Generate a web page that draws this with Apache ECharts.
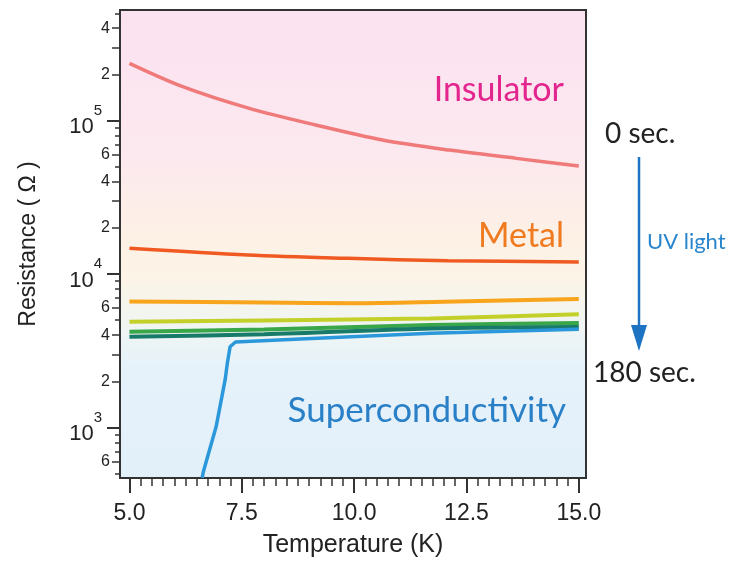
<!DOCTYPE html>
<html><head><meta charset="utf-8">
<script src="https://cdn.jsdelivr.net/npm/echarts@6/dist/echarts.min.js"></script>
<style>html,body{margin:0;padding:0;background:#fff}#c{width:731px;height:571px}</style>
</head><body><div id="c"></div>
<script>
// ---- data ----
const insulatorT = [5.0, 6.17, 7.65, 9.14, 10.63, 12.12, 13.61, 15.0];
const insulatorR = [236000, 167000, 120500, 93600, 74700, 64200, 56700, 50600];
const metalT = [5.0, 7.63, 9.86, 12.09, 15.0];
const metalR = [14700, 13300, 12650, 12200, 12000];
const orangeT = [5.0, 8.0, 10.0, 12.0, 15.0];
const orangeR = [6620, 6520, 6450, 6600, 6870];
const yellowT = [5.0, 8.0, 11.7, 15.0];
const yellowR = [4890, 4980, 5140, 5460];
const greenT = [5.0, 8.0, 11.7, 15.0];
const greenR = [4210, 4350, 4650, 4800];
const tealT = [5.0, 8.0, 11.7, 15.0];
const tealR = [3910, 4050, 4420, 4520];
const blueT = [6.62, 6.64, 6.93, 7.13, 7.18, 7.24, 7.36, 8.8, 11.7, 15.0];
const blueR = [470, 510, 1014, 2050, 2640, 3360, 3610, 3780, 4110, 4370];

const xMajorTicks = [5.0, 7.5, 10.0, 12.5, 15.0];
const yDecadeTicks = [1000, 10000, 100000];
const yLabeledMinor = [600, 2000, 4000, 6000, 20000, 40000, 60000, 200000, 400000];
const yMidTicks = [600, 2000, 3000, 4000, 6000, 20000, 30000, 40000, 60000, 200000, 300000, 400000];
const yShortTicks = [500, 700, 800, 900, 5000, 7000, 8000, 9000, 50000, 70000, 80000, 90000, 500000];

const X_MIN = 4.79, X_MAX = 15.16, Y_MIN = 469, Y_MAX = 525000;

const xMinorTicks = [];
for (let v = 5.25; v < 15; v += 0.25) {
  const r = Math.round(v * 100) / 100;
  if (!xMajorTicks.includes(r)) xMinorTicks.push(r);
}

function pairs(t, r) { return t.map((x, i) => [x, r[i]]); }

const chart = echarts.init(document.getElementById('c'), null, {renderer: 'canvas'});
const AX = '#333';
const FONT = 'Liberation Sans';
const ANN = 'Lato';

const yBase = {type: 'log', logBase: 10, min: Y_MIN, max: Y_MAX, gridIndex: 0, position: 'left', offset: 0,
  splitLine: {show: false}, axisLine: {show: true, lineStyle: {color: AX, width: 2}}};
const xBase = {type: 'value', min: X_MIN, max: X_MAX, gridIndex: 0, position: 'bottom', offset: 0,
  splitLine: {show: false}, axisLine: {show: true, lineStyle: {color: AX, width: 2}}};

chart.setOption({
  animation: false,
  backgroundColor: '#fff',
  grid: {left: 120, right: 145, top: 10, bottom: 93, show: true,
    borderColor: AX, borderWidth: 2,
    backgroundColor: new echarts.graphic.LinearGradient(0, 0, 0, 1, [
      {offset: 0, color: '#fbe2f0'},
      {offset: 0.3, color: '#fce8ef'},
      {offset: 0.47, color: '#fdf0e6'},
      {offset: 0.57, color: '#fcf4e6'},
      {offset: 0.68, color: '#eff5f3'},
      {offset: 0.76, color: '#e6f2fa'},
      {offset: 1, color: '#e2f0fa'}
    ])},
  xAxis: [
    Object.assign({}, xBase, {
      name: 'Temperature (K)', nameLocation: 'middle', nameGap: 55,
      nameTextStyle: {fontFamily: FONT, fontSize: 25, color: '#222'},
      axisTick: {show: true, length: 15, customValues: xMajorTicks, lineStyle: {color: AX, width: 2}},
      axisLabel: {show: true, customValues: xMajorTicks, margin: 24,
        fontFamily: FONT, fontSize: 23, color: '#222', formatter: v => v.toFixed(1)}
    }),
    Object.assign({}, xBase, {
      axisTick: {show: true, length: 8, customValues: xMinorTicks, lineStyle: {color: AX, width: 1.5}},
      axisLabel: {show: false}
    })
  ],
  yAxis: [
    Object.assign({}, yBase, {
      name: 'Resistance ( \u03A9 )', nameLocation: 'middle', nameGap: 80,
      nameTextStyle: {fontFamily: FONT, fontSize: 23, color: '#222'},
      axisTick: {show: true, length: 13, customValues: yDecadeTicks, lineStyle: {color: AX, width: 2}},
      axisLabel: {show: true, customValues: yDecadeTicks, margin: 18, color: '#222',
        formatter: v => '{b|10}{s|' + Math.round(Math.log10(v)) + '}',
        rich: {
          b: {fontFamily: FONT, fontSize: 22, color: '#222', verticalAlign: 'bottom'},
          s: {fontFamily: FONT, fontSize: 15, color: '#222', verticalAlign: 'top', padding: [0, 0, 20, 0]}
        }}
    }),
    Object.assign({}, yBase, {
      axisTick: {show: true, length: 8, customValues: yMidTicks, lineStyle: {color: AX, width: 1.5}},
      axisLabel: {show: true, customValues: yLabeledMinor, margin: 10, fontFamily: FONT, fontSize: 16, color: '#222',
        formatter: v => String(Math.round(v / Math.pow(10, Math.floor(Math.log10(v) + 1e-9))))}
    }),
    Object.assign({}, yBase, {
      axisTick: {show: true, length: 5, customValues: yShortTicks, lineStyle: {color: AX, width: 1.5}},
      axisLabel: {show: false}
    })
  ],
  series: [
    {name: 'insulator', type: 'line', data: pairs(insulatorT, insulatorR), smooth: 0.3, symbol: 'none', clip: true,
      lineStyle: {color: '#f07a7a', width: 3.5}},
    {name: 'metal', type: 'line', data: pairs(metalT, metalR), smooth: 0.3, symbol: 'none', clip: true,
      lineStyle: {color: '#f05a22', width: 3.5}},
    {name: 'orange', type: 'line', data: pairs(orangeT, orangeR), smooth: 0.3, symbol: 'none', clip: true,
      lineStyle: {color: '#f8a41c', width: 4}},
    {name: 'yellow', type: 'line', data: pairs(yellowT, yellowR), smooth: 0.3, symbol: 'none', clip: true,
      lineStyle: {color: '#c4d02a', width: 4}},
    {name: 'green', type: 'line', data: pairs(greenT, greenR), smooth: 0.3, symbol: 'none', clip: true,
      lineStyle: {color: '#3aa64a', width: 4}},
    {name: 'teal', type: 'line', data: pairs(tealT, tealR), smooth: 0.3, symbol: 'none', clip: true,
      lineStyle: {color: '#187a68', width: 4}},
    {name: 'blue', type: 'line', data: pairs(blueT, blueR), smooth: false, symbol: 'none', clip: true,
      lineStyle: {color: '#2a98da', width: 3.5}}
  ],
  graphic: [
    {type: 'text', x: 564, y: 90, style: {text: 'Insulator', fill: '#e3268e', font: '34px ' + ANN, textAlign: 'right', textVerticalAlign: 'middle'}},
    {type: 'text', x: 564, y: 236, style: {text: 'Metal', fill: '#f07a20', font: '34px ' + ANN, textAlign: 'right', textVerticalAlign: 'middle'}},
    {type: 'text', x: 566, y: 411, style: {text: 'Superconductivity', fill: '#2a80c6', font: '35px ' + ANN, textAlign: 'right', textVerticalAlign: 'middle'}},
    {type: 'text', x: 605, y: 134, style: {text: '0 sec.', fill: '#222', font: '28px ' + ANN, textAlign: 'left', textVerticalAlign: 'middle'}},
    {type: 'text', x: 593, y: 373, style: {text: '180 sec.', fill: '#222', font: '28px ' + ANN, textAlign: 'left', textVerticalAlign: 'middle'}},
    {type: 'text', x: 647, y: 242, style: {text: 'UV light', fill: '#2a86cc', font: '22px ' + ANN, textAlign: 'left', textVerticalAlign: 'middle'}},
    {type: 'line', shape: {x1: 639, y1: 157, x2: 639, y2: 330}, style: {stroke: '#1e74c2', lineWidth: 2.5}},
    {type: 'polygon', shape: {points: [[631, 325], [647, 325], [639, 351]]}, style: {fill: '#1e74c2'}}
  ]
});
</script>
</body></html>
